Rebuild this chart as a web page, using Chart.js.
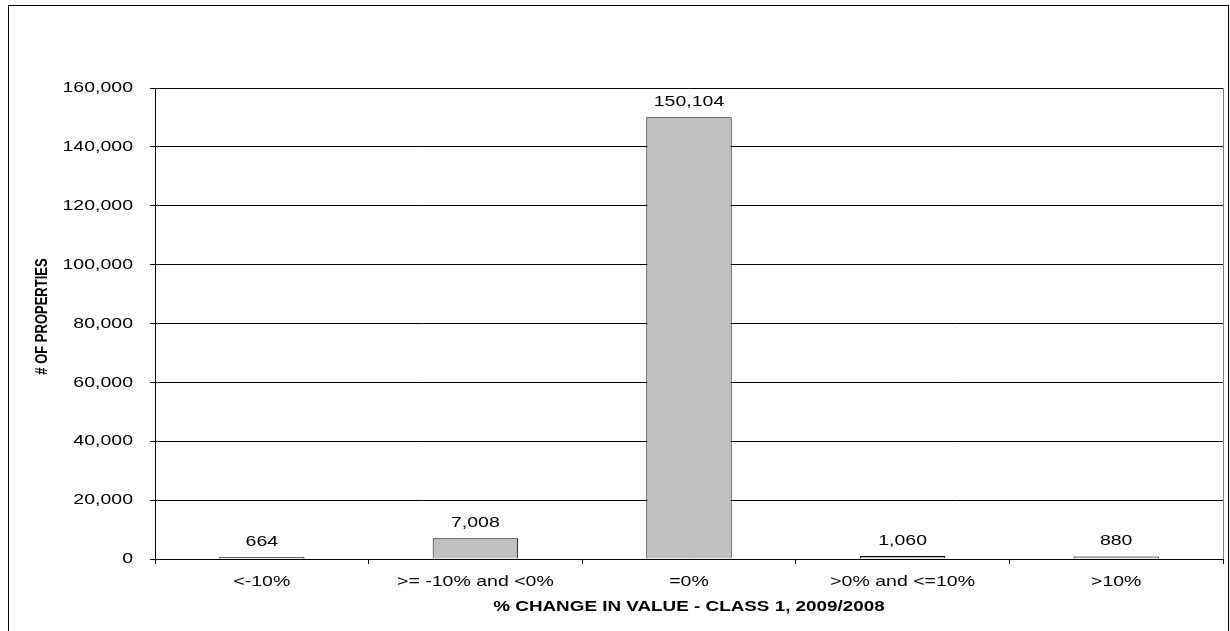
<!DOCTYPE html>
<html>
<head>
<meta charset="utf-8">
<script src="https://cdn.jsdelivr.net/npm/chart.js@4.4.0/dist/chart.umd.min.js"></script>
<style>
  body { margin: 0; background: #fff; }
  canvas { display: block; }
</style>
</head>
<body>
<canvas id="chart" width="1230" height="631"></canvas>
<script>
const categories = ["<-10%", ">= -10% and <0%", "=0%", ">0% and <=10%", ">10%"];
const properties = [664, 7008, 150104, 1060, 880];
const yTicks = [0, 20000, 40000, 60000, 80000, 100000, 120000, 140000, 160000];

const fontFamily = "'Liberation Sans', Arial, sans-serif";
const fmt = (v) => v.toLocaleString("en-US");

// the reference was stretched sideways, so every piece of text is drawn
// 1.3x wider on screen, around its own anchor point
const textStretch = 1.3;

const stretchText = {
  id: "stretchText",
  beforeInit(chart) {
    const ctx = chart.ctx;
    const fill = ctx.fillText.bind(ctx);
    ctx.fillText = (text, x, y, maxWidth) => {
      const m = ctx.getTransform();
      const ax = m.a * x + m.c * y + m.e;
      const ay = m.b * x + m.d * y + m.f;
      const s = new DOMMatrix()
        .translate(ax, ay)
        .scale(textStretch, 1)
        .translate(-ax, -ay)
        .multiply(m);
      ctx.setTransform(s);
      if (maxWidth === undefined) fill(text, x, y);
      else fill(text, x, y, maxWidth);
      ctx.setTransform(m);
    };
  },
  afterLayout(chart) {
    // y title sits a little above the middle of the axis in the reference
    const scale = chart.scales.y;
    if (scale._shifted) return;
    scale._shifted = true;
    const drawTitle = scale.drawTitle.bind(scale);
    scale.drawTitle = () => {
      chart.ctx.save();
      chart.ctx.translate(0, -7);
      drawTitle();
      chart.ctx.restore();
    };
  },
};

// outer frame and right edge of the plot area
const frame = {
  id: "frame",
  beforeDraw(chart) {
    const ctx = chart.ctx;
    ctx.save();
    ctx.strokeStyle = "#000";
    ctx.lineWidth = 1;
    ctx.strokeRect(8.5, 5.5, 1220, 700);
    ctx.restore();
  },
  afterDraw(chart) {
    const { ctx, chartArea } = chart;
    ctx.save();
    ctx.strokeStyle = "#808080";
    ctx.lineWidth = 1;
    ctx.beginPath();
    ctx.moveTo(Math.round(chartArea.right) + 0.5, chartArea.top);
    ctx.lineTo(Math.round(chartArea.right) + 0.5, chartArea.bottom);
    ctx.stroke();
    ctx.restore();
  },
};

// value labels above bars
const barLabels = {
  id: "barLabels",
  afterDatasetsDraw(chart) {
    const ctx = chart.ctx;
    const meta = chart.getDatasetMeta(0);
    ctx.save();
    ctx.font = "15px " + fontFamily;
    ctx.fillStyle = "#000";
    ctx.textAlign = "center";
    ctx.textBaseline = "alphabetic";
    meta.data.forEach((bar, i) => {
      ctx.fillText(fmt(properties[i]), bar.x, bar.y - 11);
    });
    ctx.restore();
  },
};

new Chart(document.getElementById("chart"), {
  type: "bar",
  data: {
    labels: categories,
    datasets: [
      {
        data: properties,
        backgroundColor: "#C0C0C0",
        borderColor: "#000",
        borderWidth: 1,
        categoryPercentage: 1,
        barPercentage: 0.4,
      },
    ],
  },
  options: {
    responsive: false,
    animation: false,
    layout: { padding: { top: 88, right: 7, left: 0, bottom: 0 } },
    plugins: {
      legend: { display: false },
      tooltip: { enabled: false },
    },
    scales: {
      x: {
        grid: {
          display: true,
          drawOnChartArea: false,
          drawTicks: true,
          tickLength: 5,
          color: "#000",
          offset: true,
        },
        border: { color: "#000", width: 1 },
        ticks: {
          color: "#000",
          font: { family: fontFamily, size: 15 },
          padding: 9,
          maxRotation: 0,
          autoSkip: false,
        },
        title: {
          display: true,
          text: "% CHANGE IN VALUE - CLASS 1, 2009/2008",
          color: "#000",
          font: { family: fontFamily, size: 14.5, weight: "bold" },
          padding: { top: 0, bottom: 15 },
        },
        afterFit(scale) {
          scale.height = 72;
        },
      },
      y: {
        min: 0,
        max: 160000,
        afterBuildTicks(scale) {
          scale.ticks = yTicks.map((v) => ({ value: v }));
        },
        grid: {
          color: "#000",
          lineWidth: 1,
          drawTicks: true,
          tickLength: 5,
        },
        border: { color: "#000", width: 1 },
        ticks: {
          color: "#000",
          font: { family: fontFamily, size: 15 },
          padding: 17,
          callback: (v) => fmt(v),
        },
        title: {
          display: true,
          text: "# OF PROPERTIES",
          color: "#000",
          font: { family: fontFamily, size: 13, weight: "bold" },
          padding: { top: 35, bottom: 0 },
        },
        afterFit(scale) {
          scale.width = 155;
        },
      },
    },
  },
  plugins: [stretchText, frame, barLabels],
});
</script>
</body>
</html>
